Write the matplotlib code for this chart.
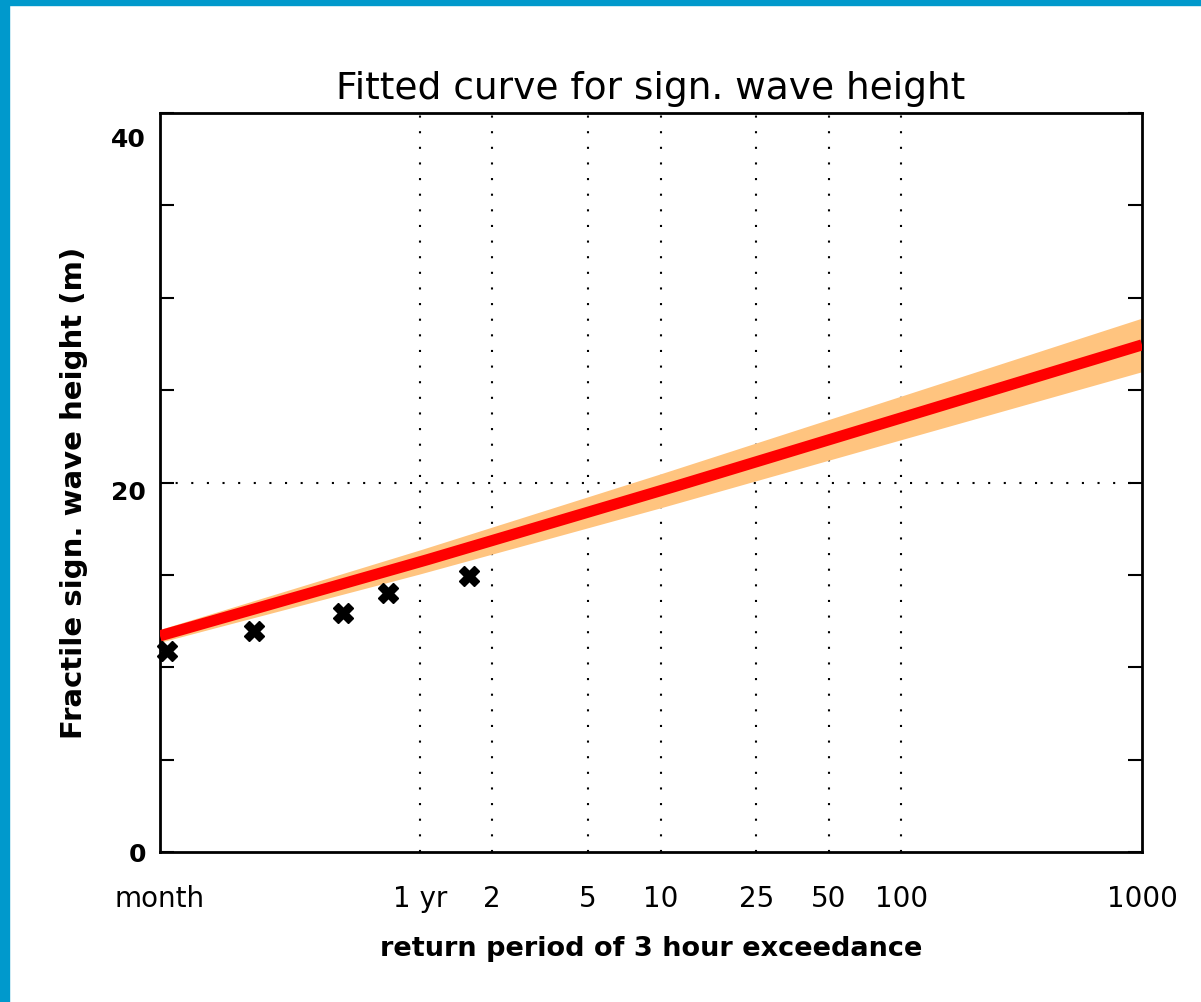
import numpy as np
import matplotlib
matplotlib.use("Agg")
import matplotlib.pyplot as plt
from matplotlib.patches import Rectangle
from matplotlib.transforms import ScaledTranslation

# return period (years) and fitted significant wave height (m)
fit_period = [1 / 12, 1, 10, 100, 1000]
fit_height = [11.7, 15.7, 19.55, 23.5, 27.45]
fit_halfwidth = [0.35, 0.65, 0.92, 1.18, 1.45]

# empirical fractiles
obs_period = [0.089, 0.205, 0.478, 0.736, 1.6]
obs_height = [10.9, 11.95, 12.95, 14.0, 14.95]

tick_period = [1 / 12, 1, 2, 5, 10, 25, 50, 100, 1000]
tick_text = ['month', '1 yr', '2', '5', '10', '25', '50', '100', '1000']
grid_period = [1, 2, 5, 10, 25, 50, 100]

fig = plt.figure(figsize=(12.01, 10.02), dpi=100)
fig.patch.set_facecolor('white')
ax = fig.add_axes([0.1332, 0.1497, 0.8177, 0.7375])

# band and fitted curve, smooth in log(period)
t = np.logspace(np.log10(fit_period[0]), np.log10(fit_period[-1]), 400)
lt = np.log10(t)
h = np.interp(lt, np.log10(fit_period), fit_height)
w = np.interp(lt, np.log10(fit_period), fit_halfwidth)
ax.fill_between(t, h - w, h + w, color='#ffc47f', lw=0, zorder=2)
ax.plot(t, h, color='#ff0000', lw=8, solid_capstyle='butt', zorder=3)

ax.plot(obs_period, obs_height, ls='none', marker='X', ms=15,
        mfc='black', mec='black', zorder=4, clip_on=False)

for p in grid_period:
    ax.axvline(p, color='black', lw=1.5, ls=(0, (1, 6.5)), zorder=1)
ax.axhline(20, color='black', lw=1.5, ls=(0, (1, 6.5)), zorder=1)

ax.set_xscale('log')
ax.set_xlim(fit_period[0], fit_period[-1])
ax.set_ylim(0, 40)
ax.minorticks_off()
ax.set_xticks(tick_period)
ax.set_xticklabels(tick_text, fontsize=20)
ax.tick_params(axis='x', length=0, pad=24)

ax.set_yticks(range(0, 41, 5))
ax.set_yticklabels(['0', '', '', '', '20', '', '', '', '40'],
                   fontsize=18, fontweight='bold')
ax.tick_params(axis='y', direction='in', length=10, width=1.5,
               left=True, right=True, pad=10)
# the upper labels sit a bit below their ticks
shift = {'40': -0.24, '20': -0.08}
for lbl in ax.get_yticklabels():
    dy = shift.get(lbl.get_text(), 0)
    if dy:
        lbl.set_transform(lbl.get_transform()
                          + ScaledTranslation(0, dy, fig.dpi_scale_trans))

for s in ax.spines.values():
    s.set_linewidth(2)

ax.set_title('Fitted curve for sign. wave height', fontsize=27, pad=10)
ax.set_xlabel('return period of 3 hour exceedance', fontsize=19.5,
              fontweight='bold', labelpad=16)
ax.set_ylabel('Fractile sign. wave height (m)', fontsize=21,
              fontweight='bold')
ax.yaxis.set_label_coords(-0.073, 0.486)

# frame strips along the top and left edges
fig.patches.append(Rectangle((0, 0), 9 / 1201, 1, transform=fig.transFigure,
                             color='#0099cc', zorder=10))
fig.patches.append(Rectangle((0, 1 - 5 / 1002), 1, 5 / 1002,
                             transform=fig.transFigure, color='#0099cc', zorder=10))

fig.savefig('out.png', dpi=100)
